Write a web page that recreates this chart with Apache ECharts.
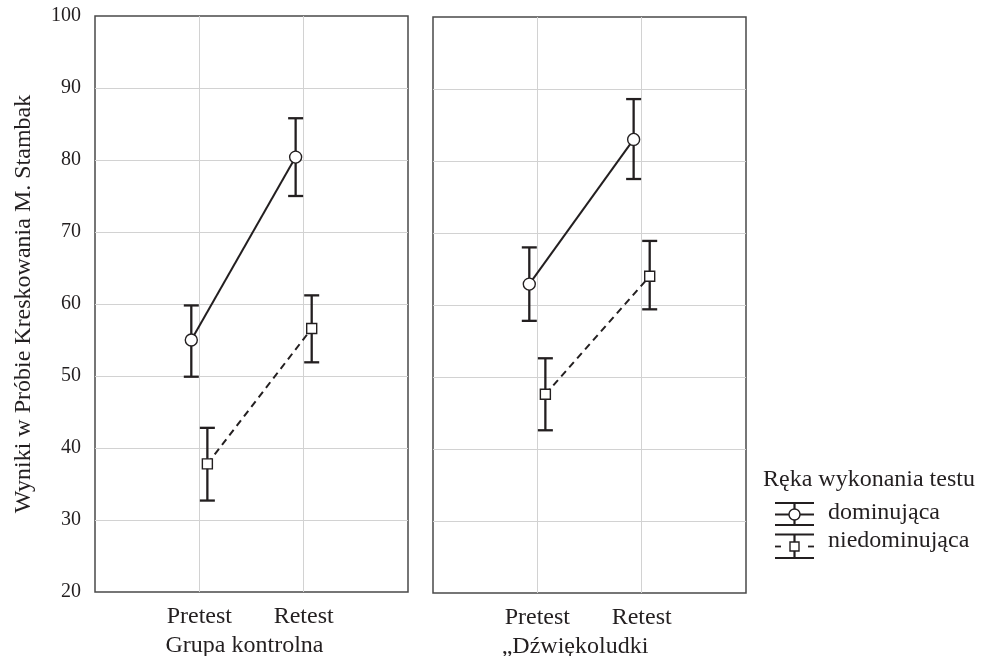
<!DOCTYPE html>
<html><head><meta charset="utf-8">
<script src="https://cdn.jsdelivr.net/npm/echarts@6/dist/echarts.min.js"></script>
<style>html,body{margin:0;padding:0;background:#fff}#c{width:981px;height:656px}</style>
</head><body><div id="c"></div>
<script>
// ---- data ----
const phases = ['Pretest', 'Retest'];
const groups = ['Grupa kontrolna', '\u201EDźwiękoludki'];
const seriesNames = ['dominująca', 'niedominująca'];
const legendTitle = 'Ręka wykonania testu';
const yTitle = 'Wyniki w Próbie Kreskowania M. Stambak';
const yTicks = [20, 30, 40, 50, 60, 70, 80, 90, 100];
// [group][phase]
const domMean = [[55.0, 80.4], [62.9, 83.0]];
const domLow  = [[49.9, 75.0], [57.8, 77.5]];
const domHigh = [[59.8, 85.8], [68.0, 88.6]];
const ndMean  = [[37.8, 56.6], [47.6, 64.0]];
const ndLow   = [[32.7, 51.9], [42.6, 59.4]];
const ndHigh  = [[42.8, 61.2], [52.6, 68.9]];

// ---- chart ----
const INK = '#231f20';
const FONT = '"Liberation Serif", "Times New Roman", serif';
const DODGE = 0.077;
const chart = echarts.init(document.getElementById('c'), null, {renderer: 'canvas'});

const grids = [
  {left: 95, top: 16, width: 313, height: 576},
  {left: 433, top: 17, width: 313, height: 576}
];
const namePad = [[0, 14, 0, 0], [0, 29, 0, 0]];

const xAxes = groups.map((g, i) => ({
  type: 'value', gridIndex: i, min: 0, max: phases.length + 1, interval: 1,
  axisLine: {show: false}, axisTick: {show: false},
  splitLine: {show: true, showMinLine: false, showMaxLine: false, lineStyle: {color: '#d2d2d2', width: 1}},
  axisLabel: {
    formatter: v => phases[v - 1] || '', fontSize: 24, fontFamily: FONT, color: INK, margin: 13,
    showMinLabel: false, showMaxLabel: false
  },
  name: g, nameLocation: 'middle', nameGap: 42,
  nameTextStyle: {fontSize: 24, fontFamily: FONT, color: INK, padding: namePad[i]}
}));

const yAxes = groups.map((g, i) => ({
  type: 'value', gridIndex: i, min: yTicks[0], max: yTicks[yTicks.length - 1],
  interval: yTicks[1] - yTicks[0],
  axisLine: {show: false}, axisTick: {show: false},
  splitLine: {show: true, showMinLine: false, showMaxLine: false, lineStyle: {color: '#d2d2d2', width: 1}},
  axisLabel: {show: i === 0, fontSize: 20, fontFamily: FONT, color: INK, margin: 14},
  name: i === 0 ? yTitle : '', nameLocation: 'middle', nameGap: 59,
  nameTextStyle: {fontSize: 24, fontFamily: FONT, color: INK}
}));

function errRender(params, api) {
  const x = api.value(0), lo = api.value(1), hi = api.value(2);
  const t = api.coord([x, hi]), b = api.coord([x, lo]);
  const w = 7.5, st = {stroke: INK, lineWidth: 2.3};
  return {type: 'group', children: [
    {type: 'line', shape: {x1: t[0], y1: t[1], x2: b[0], y2: b[1]}, style: st},
    {type: 'line', shape: {x1: t[0] - w, y1: t[1], x2: t[0] + w, y2: t[1]}, style: st},
    {type: 'line', shape: {x1: b[0] - w, y1: b[1], x2: b[0] + w, y2: b[1]}, style: st}
  ]};
}

const series = [];
groups.forEach((g, gi) => {
  const defs = [
    {name: seriesNames[0], mean: domMean, lo: domLow, hi: domHigh, off: -DODGE, sym: 'circle', size: 12, dash: 'solid'},
    {name: seriesNames[1], mean: ndMean, lo: ndLow, hi: ndHigh, off: DODGE, sym: 'rect', size: 10, dash: [7, 5]}
  ];
  defs.forEach(d => {
    series.push({
      type: 'custom', xAxisIndex: gi, yAxisIndex: gi, z: 3,
      renderItem: errRender, encode: {x: 0, y: [1, 2]},
      data: phases.map((p, pi) => [pi + 1 + d.off, d.lo[gi][pi], d.hi[gi][pi]]),
      silent: true
    });
    series.push({
      type: 'line', name: d.name, xAxisIndex: gi, yAxisIndex: gi, z: 5,
      data: phases.map((p, pi) => [pi + 1 + d.off, d.mean[gi][pi]]),
      symbol: d.sym, symbolSize: d.size, showAllSymbol: true,
      lineStyle: {color: INK, width: 2, type: d.dash},
      itemStyle: {color: '#fff', borderColor: INK, borderWidth: 1.4},
      animation: false, silent: true
    });
  });
});

// legend drawn as graphic decoration
const lx = 775, lw = 39, cx = lx + lw / 2;
const ln = (x1, y1, x2, y2, extra) => ({type: 'line', shape: {x1, y1, x2, y2}, style: Object.assign({stroke: INK, lineWidth: 2.2}, extra || {})});
const legendGraphic = [
  {type: 'text', left: 763, top: 468, style: {text: legendTitle, font: '24px ' + FONT, fill: INK}},
  // dominujaca
  ln(lx, 503, lx + lw, 503), ln(lx, 525, lx + lw, 525), ln(cx, 503, cx, 525),
  ln(lx, 514.5, lx + lw, 514.5, {lineWidth: 1.8}),
  {type: 'circle', shape: {cx: cx, cy: 514.5, r: 5.5}, style: {fill: '#fff', stroke: INK, lineWidth: 1.4}},
  {type: 'text', left: 828, top: 501, style: {text: seriesNames[0], font: '24px ' + FONT, fill: INK}},
  // niedominujaca
  ln(lx, 534.5, lx + lw, 534.5), ln(lx, 558, lx + lw, 558), ln(cx, 534.5, cx, 558),
  ln(lx, 546.5, lx + 6, 546.5, {lineWidth: 1.8}), ln(lx + lw - 6, 546.5, lx + lw, 546.5, {lineWidth: 1.8}),
  {type: 'rect', shape: {x: cx - 4.5, y: 542, width: 9, height: 9}, style: {fill: '#fff', stroke: INK, lineWidth: 1.4}},
  {type: 'text', left: 828, top: 529, style: {text: seriesNames[1], font: '24px ' + FONT, fill: INK}}
];

chart.setOption({
  animation: false,
  backgroundColor: '#fff',
  grid: grids.map(g => Object.assign({show: true, borderColor: '#4a4a4a', borderWidth: 1.5, backgroundColor: 'transparent', containLabel: false, outerBoundsMode: 'none'}, g)),
  xAxis: xAxes,
  yAxis: yAxes,
  series: series,
  graphic: legendGraphic
});
</script></body></html>
